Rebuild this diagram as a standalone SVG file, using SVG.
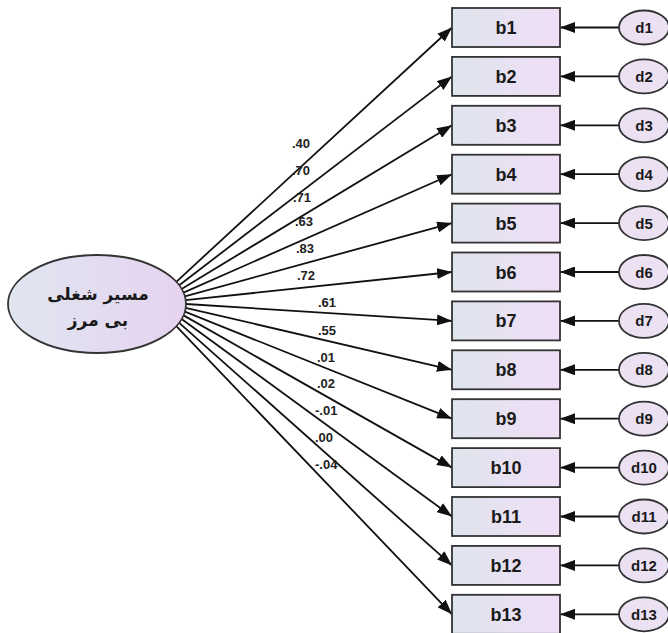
<svg xmlns="http://www.w3.org/2000/svg" width="668" height="633" viewBox="0 0 668 633">
<defs>
<linearGradient id="gb" x1="0" y1="0" x2="1" y2="0">
<stop offset="0" stop-color="#dfe5ee"/>
<stop offset="1" stop-color="#f0def6"/>
</linearGradient>
<linearGradient id="ge" x1="0" y1="0" x2="1" y2="0">
<stop offset="0" stop-color="#e0e6f0"/>
<stop offset="1" stop-color="#e6d3f1"/>
</linearGradient>
<marker id="ah" markerUnits="userSpaceOnUse" markerWidth="15" markerHeight="11" refX="15" refY="5.5" orient="auto">
<path d="M0,0 L15,5.5 L0,11 z" fill="#111"/>
</marker>
</defs>
<style>
.box{fill:url(#gb);stroke:#333;stroke-width:1.8}
.d{fill:#ebe1f3;stroke:#333;stroke-width:1.8}
.lat{fill:url(#ge);stroke:#333;stroke-width:1.8}
.bt{font-family:"Liberation Sans",Arial,sans-serif;font-weight:bold;font-size:18px;fill:#1a1a1a;text-anchor:middle}
.dt{font-family:"Liberation Sans",Arial,sans-serif;font-weight:bold;font-size:15px;fill:#1a1a1a;text-anchor:middle}
.ct{font-family:"Liberation Sans",Arial,sans-serif;font-weight:bold;font-size:13px;fill:#222}
.ft{font-family:"DejaVu Sans",sans-serif;font-weight:bold;font-size:17px;fill:#1a1a1a;text-anchor:middle}
.c{stroke:#111;stroke-width:1.8;fill:none;marker-end:url(#ah)}
</style>
<rect width="668" height="633" fill="#fff"/>
<g id="connectors">
<line class="c" x1="176.3" y1="281.8" x2="452" y2="27.5"/>
<line class="c" x1="179.2" y1="285.2" x2="452" y2="76.4"/>
<line class="c" x1="181.6" y1="288.9" x2="452" y2="125.3"/>
<line class="c" x1="183.5" y1="292.6" x2="452" y2="174.2"/>
<line class="c" x1="184.9" y1="296.3" x2="452" y2="223.1"/>
<line class="c" x1="185.7" y1="300.2" x2="452" y2="272"/>
<line class="c" x1="186" y1="304" x2="452" y2="320.9"/>
<line class="c" x1="185.7" y1="307.8" x2="452" y2="369.8"/>
<line class="c" x1="184.9" y1="311.7" x2="452" y2="418.7"/>
<line class="c" x1="183.5" y1="315.4" x2="452" y2="467.6"/>
<line class="c" x1="181.6" y1="319.1" x2="452" y2="516.5"/>
<line class="c" x1="179.2" y1="322.8" x2="452" y2="565.4"/>
<line class="c" x1="176.3" y1="326.2" x2="452" y2="614.3"/>
<line class="c" x1="619" y1="27.5" x2="560" y2="27.5"/>
<line class="c" x1="619" y1="76.4" x2="560" y2="76.4"/>
<line class="c" x1="619" y1="125.3" x2="560" y2="125.3"/>
<line class="c" x1="619" y1="174.2" x2="560" y2="174.2"/>
<line class="c" x1="619" y1="223.1" x2="560" y2="223.1"/>
<line class="c" x1="619" y1="272" x2="560" y2="272"/>
<line class="c" x1="619" y1="320.9" x2="560" y2="320.9"/>
<line class="c" x1="619" y1="369.8" x2="560" y2="369.8"/>
<line class="c" x1="619" y1="418.7" x2="560" y2="418.7"/>
<line class="c" x1="619" y1="467.6" x2="560" y2="467.6"/>
<line class="c" x1="619" y1="516.5" x2="560" y2="516.5"/>
<line class="c" x1="619" y1="565.4" x2="560" y2="565.4"/>
<line class="c" x1="619" y1="614.3" x2="560" y2="614.3"/>
<text class="ct" x="292" y="148">.40</text>
<text class="ct" x="292" y="175">.70</text>
<text class="ct" x="293" y="202">.71</text>
<text class="ct" x="295" y="226">.63</text>
<text class="ct" x="296" y="253">.83</text>
<text class="ct" x="297" y="280">.72</text>
<text class="ct" x="318" y="307">.61</text>
<text class="ct" x="318" y="335">.55</text>
<text class="ct" x="317" y="362">.01</text>
<text class="ct" x="317" y="388">.02</text>
<text class="ct" x="315" y="415">-.01</text>
<text class="ct" x="315" y="442">.00</text>
<text class="ct" x="315" y="469">-.04</text>
</g>
<g id="latent">
<ellipse class="lat" cx="97" cy="304" rx="89" ry="49"/>
<text class="ft" x="98" y="300" direction="rtl">مسیر شغلی</text>
<text class="ft" x="98" y="326" direction="rtl">بی مرز</text>
</g>
<g id="b1"><rect class="box" x="452" y="8" width="108" height="39"/><text class="bt" x="506" y="34">b1</text></g>
<g id="b2"><rect class="box" x="452" y="56.9" width="108" height="39"/><text class="bt" x="506" y="82.9">b2</text></g>
<g id="b3"><rect class="box" x="452" y="105.8" width="108" height="39"/><text class="bt" x="506" y="131.8">b3</text></g>
<g id="b4"><rect class="box" x="452" y="154.7" width="108" height="39"/><text class="bt" x="506" y="180.7">b4</text></g>
<g id="b5"><rect class="box" x="452" y="203.6" width="108" height="39"/><text class="bt" x="506" y="229.6">b5</text></g>
<g id="b6"><rect class="box" x="452" y="252.5" width="108" height="39"/><text class="bt" x="506" y="278.5">b6</text></g>
<g id="b7"><rect class="box" x="452" y="301.4" width="108" height="39"/><text class="bt" x="506" y="327.4">b7</text></g>
<g id="b8"><rect class="box" x="452" y="350.3" width="108" height="39"/><text class="bt" x="506" y="376.3">b8</text></g>
<g id="b9"><rect class="box" x="452" y="399.2" width="108" height="39"/><text class="bt" x="506" y="425.2">b9</text></g>
<g id="b10"><rect class="box" x="452" y="448.1" width="108" height="39"/><text class="bt" x="506" y="474.1">b10</text></g>
<g id="b11"><rect class="box" x="452" y="497" width="108" height="39"/><text class="bt" x="506" y="523">b11</text></g>
<g id="b12"><rect class="box" x="452" y="545.9" width="108" height="39"/><text class="bt" x="506" y="571.9">b12</text></g>
<g id="b13"><rect class="box" x="452" y="594.8" width="108" height="39"/><text class="bt" x="506" y="620.8">b13</text></g>
<g id="d1"><ellipse class="d" cx="644" cy="27.5" rx="25" ry="17"/><text class="dt" x="644" y="33">d1</text></g>
<g id="d2"><ellipse class="d" cx="644" cy="76.4" rx="25" ry="17"/><text class="dt" x="644" y="81.9">d2</text></g>
<g id="d3"><ellipse class="d" cx="644" cy="125.3" rx="25" ry="17"/><text class="dt" x="644" y="130.8">d3</text></g>
<g id="d4"><ellipse class="d" cx="644" cy="174.2" rx="25" ry="17"/><text class="dt" x="644" y="179.7">d4</text></g>
<g id="d5"><ellipse class="d" cx="644" cy="223.1" rx="25" ry="17"/><text class="dt" x="644" y="228.6">d5</text></g>
<g id="d6"><ellipse class="d" cx="644" cy="272" rx="25" ry="17"/><text class="dt" x="644" y="277.5">d6</text></g>
<g id="d7"><ellipse class="d" cx="644" cy="320.9" rx="25" ry="17"/><text class="dt" x="644" y="326.4">d7</text></g>
<g id="d8"><ellipse class="d" cx="644" cy="369.8" rx="25" ry="17"/><text class="dt" x="644" y="375.3">d8</text></g>
<g id="d9"><ellipse class="d" cx="644" cy="418.7" rx="25" ry="17"/><text class="dt" x="644" y="424.2">d9</text></g>
<g id="d10"><ellipse class="d" cx="644" cy="467.6" rx="25" ry="17"/><text class="dt" x="644" y="473.1">d10</text></g>
<g id="d11"><ellipse class="d" cx="644" cy="516.5" rx="25" ry="17"/><text class="dt" x="644" y="522">d11</text></g>
<g id="d12"><ellipse class="d" cx="644" cy="565.4" rx="25" ry="17"/><text class="dt" x="644" y="570.9">d12</text></g>
<g id="d13"><ellipse class="d" cx="644" cy="614.3" rx="25" ry="17"/><text class="dt" x="644" y="619.8">d13</text></g>
</svg>
